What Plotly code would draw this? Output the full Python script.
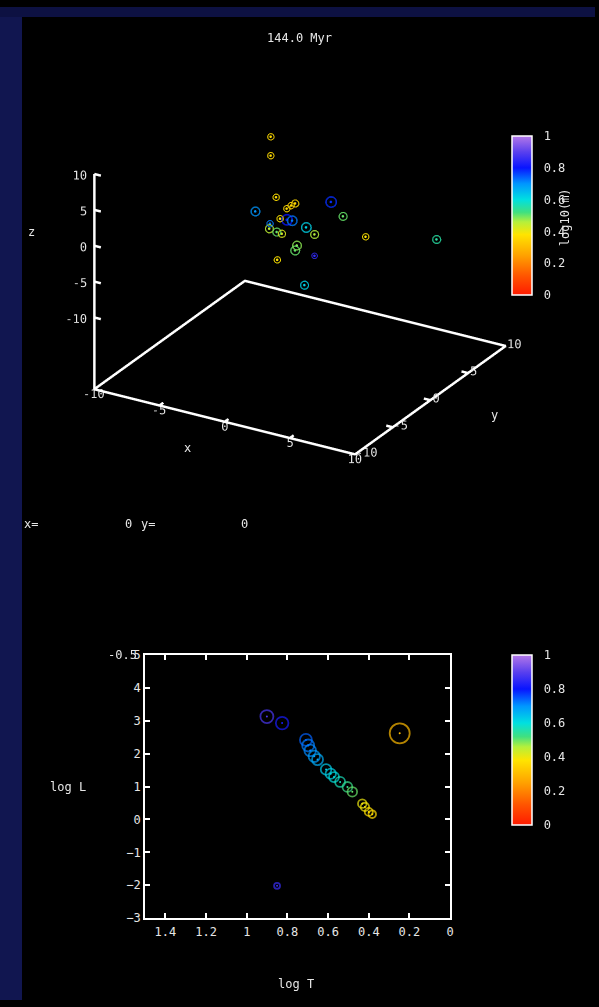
import plotly.graph_objects as go

W, H = 599, 1007

# ---------------- 3D panel data (positions in pc, log10 mass, radius) -------------
star_x = [-4.56, -3.41, -2.42, -0.96, -2.28, 1.21, 2.71, 3.29, 7.00, -1.02, -0.04, 0.46, 1.68,
          -1.21, -1.22, -1.98, -0.25, 0.19, -0.05, -0.02, 2.64, -2.18, 0.46, -2.31, -3.27]
star_y = [4.0, 2.0, 1.0, 1.0, -2.0, 2.0, 1.0, 3.0, 6.0, 0.0, -1.0, 0.0, -1.0,
          -2.0, -1.0, 1.0, 0.0, -1.0, 2.0, -3.0, -4.0, 2.0, -2.0, 0.0, 3.0]
star_z = [7.1, 6.5, 1.9, 1.7, 2.26, 2.14, 1.57, -2.52, -3.48, 0.16, 1.23, -0.24, 0.09,
          0.33, -0.89, -2.99, -3.08, -2.82, -5.94, -2.71, -4.28, -0.33, 4.31, -0.98, -2.98]
star_logm = [0.36, 0.36, 0.37, 0.36, 0.70, 0.78, 0.50, 0.38, 0.55, 0.80, 0.72, 0.62, 0.46,
             0.45, 0.50, 0.42, 0.48, 0.50, 0.85, 0.38, 0.62, 0.36, 0.35, 0.72, 0.38]
star_radius = [4.0, 4.0, 4.0, 4.5, 5.5, 6.5, 5.0, 4.0, 5.0, 6.5, 6.0, 6.0, 5.0,
               5.0, 5.0, 4.5, 5.5, 5.5, 3.5, 4.0, 5.0, 4.0, 4.0, 4.0, 4.0]

# ---------------- HR diagram data -------------
hr_logT = [0.901, 0.826, 0.709, 0.698, 0.688, 0.668, 0.652, 0.610, 0.587, 0.571, 0.541,
           0.505, 0.481, 0.432, 0.419, 0.400, 0.383, 0.248, 0.851]
hr_logL = [3.13, 2.93, 2.42, 2.25, 2.10, 1.92, 1.82, 1.52, 1.39, 1.29, 1.14,
           0.99, 0.84, 0.48, 0.38, 0.23, 0.16, 2.62, -2.02]
hr_logm = [0.88, 0.82, 0.74, 0.72, 0.71, 0.69, 0.67, 0.63, 0.62, 0.60, 0.57,
           0.53, 0.50, 0.40, 0.39, 0.37, 0.36, 0.30, 0.86]
hr_radius = [6.5, 6.3, 6.0, 6.0, 5.8, 5.7, 5.5, 5.3, 5.2, 5.0, 5.0,
             4.9, 4.8, 4.3, 4.2, 4.0, 3.8, 10.0, 3.0]

# ---------------- axes -------------
xyz_range = [-10, 10]
z_base = -20
box_ticks = [-10, -5, 0, 5, 10]
logT_range = [1.5, 0]
logT_ticks = [1.4, 1.2, 1.0, 0.8, 0.6, 0.4, 0.2, 0.0]
logT_ticktext = ["1.4", "1.2", "1", "0.8", "0.6", "0.4", "0.2", "0"]
logL_range = [-3, 5]
logL_ticks = [-3, -2, -1, 0, 1, 2, 3, 4, 5]
cb_ticks = [0, 0.2, 0.4, 0.6, 0.8, 1]
cb_ticktext = ["0", "0.2", "0.4", "0.6", "0.8", "1"]

FONT = "DejaVu Sans Mono"
TXT = "#e6e6e6"
colorscale = [[0.0, "#ff1a00"], [0.12, "#ff5500"], [0.25, "#ffa200"], [0.38, "#ffe400"],
              [0.46, "#b4f03c"], [0.52, "#40e080"], [0.60, "#00e0e0"], [0.70, "#0096ff"],
              [0.80, "#0814ff"], [0.90, "#5a40ee"], [1.0, "#b478e8"]]

# photographed page is slightly reduced and shifted; map intended picture coords to page coords
SX, SY, OY = 0.993, 0.986, 7.0


def px(x):
    return (x / SX) / W


def py(y):
    return 1 - ((y - OY) / SY) / H


def plen(h):
    return (h / SY) / H


fig = go.Figure()

# ---------------- 3D box, ticks and labels -------------
x0, x1 = xyz_range
y0, y1 = xyz_range
zt = xyz_range[1]
bx = [x0, x1, x1, x0, x0, None, x0, x0]
by = [y0, y0, y1, y1, y0, None, y0, y0]
bz = [z_base] * 5 + [None, z_base, zt]
tl = 0.5
for t in box_ticks:
    bx += [None, t, t]; by += [None, y0, y0 + tl]; bz += [None, z_base, z_base]
    bx += [None, x1, x1 - tl]; by += [None, t, t]; bz += [None, z_base, z_base]
    bx += [None, x0, x0 + tl]; by += [None, y0, y0]; bz += [None, t, t]
fig.add_trace(go.Scatter3d(x=bx, y=by, z=bz, mode="lines",
                           line=dict(color="white", width=5), hoverinfo="skip", showlegend=False))

lab = [str(t) for t in box_ticks]
n = len(box_ticks)
fig.add_trace(go.Scatter3d(x=box_ticks, y=[y0] * n, z=[z_base - 0.6] * n, mode="text", text=lab,
                           textposition="middle center",
                           textfont=dict(family=FONT, size=12, color=TXT), showlegend=False))
fig.add_trace(go.Scatter3d(x=[x1 - 0.7] * n, y=box_ticks, z=[z_base] * n, mode="text", text=lab,
                           textposition="middle right",
                           textfont=dict(family=FONT, size=12, color=TXT), showlegend=False))
fig.add_trace(go.Scatter3d(x=[x0 + 0.3] * n, y=[y0] * n, z=box_ticks, mode="text", text=lab,
                           textposition="middle left",
                           textfont=dict(family=FONT, size=12, color=TXT), showlegend=False))

cb_common = dict(x=px(512), xanchor="left", yanchor="top", lenmode="fraction", thickness=20,
                 thicknessmode="pixels", outlinecolor="white", outlinewidth=1.5,
                 ticks="outside", ticklen=9, tickcolor="rgba(0,0,0,0)",
                 tickvals=cb_ticks, ticktext=cb_ticktext,
                 tickfont=dict(family=FONT, size=12, color=TXT), xpad=0, ypad=0,
                 bgcolor="rgba(0,0,0,0)")

# stars in 3D
fig.add_trace(go.Scatter3d(
    x=star_x, y=star_y, z=star_z, mode="markers",
    marker=dict(symbol="circle-open", size=[2 * r for r in star_radius], color=star_logm,
                colorscale=colorscale, cmin=0, cmax=1,
                line=dict(width=2, color=star_logm, colorscale=colorscale, cmin=0, cmax=1),
                showscale=True, colorbar=dict(y=py(136), len=plen(159), **cb_common)),
    hoverinfo="skip", showlegend=False))
fig.add_trace(go.Scatter3d(
    x=star_x, y=star_y, z=star_z, mode="markers",
    marker=dict(symbol="circle", size=1.5, color=star_logm, colorscale=colorscale, cmin=0, cmax=1),
    hoverinfo="skip", showlegend=False))

# ---------------- HR diagram -------------
fig.add_trace(go.Scatter(
    x=hr_logT, y=hr_logL, mode="markers", xaxis="x", yaxis="y",
    marker=dict(symbol="circle-open", size=[2 * r for r in hr_radius], color=hr_logm,
                colorscale=colorscale, cmin=0, cmax=1, line=dict(width=1.8),
                showscale=True, colorbar=dict(y=py(655), len=plen(170), **cb_common)),
    hoverinfo="skip", showlegend=False))
fig.add_trace(go.Scatter(
    x=hr_logT, y=hr_logL, mode="markers", xaxis="x", yaxis="y",
    marker=dict(symbol="circle", size=2, color=hr_logm, colorscale=colorscale, cmin=0, cmax=1),
    hoverinfo="skip", showlegend=False))

k = 1.6
eye = dict(x=0.4597 * k, y=-0.7803 * k, z=0.424 * k)
asp = 1.36

axis_common = dict(showline=True, linecolor="white", linewidth=2, mirror="ticks", ticks="inside",
                   ticklen=5, tickcolor="white", tickwidth=1.5, showgrid=False, zeroline=False,
                   tickfont=dict(family=FONT, size=12, color=TXT))

fig.update_layout(
    width=W, height=H, margin=dict(l=0, r=0, t=0, b=0),
    paper_bgcolor="black", plot_bgcolor="black",
    font=dict(family=FONT, size=12, color=TXT),
    showlegend=False,
    scene=dict(
        domain=dict(x=[22.5 / W, 582.5 / W], y=[1 - 486.4 / H, 1 - 26.4 / H]),
        xaxis=dict(visible=False, range=[-10.2, 10.2]),
        yaxis=dict(visible=False, range=[-10.2, 10.2]),
        zaxis=dict(visible=False, range=[-21, 11]),
        aspectmode="manual", aspectratio=dict(x=1 * asp, y=0.98 * asp, z=0.821 * asp),
        camera=dict(eye=eye, up=dict(x=0, y=0, z=1), center=dict(x=0, y=0, z=0),
                    projection=dict(type="orthographic")),
        bgcolor="rgba(0,0,0,0)",
    ),
    xaxis=dict(domain=[px(145), px(450)], range=logT_range, tickvals=logT_ticks,
               ticktext=logT_ticktext, ticklabelstandoff=2, **axis_common),
    yaxis=dict(domain=[py(918), py(655)], range=logL_range, tickvals=logL_ticks, **axis_common),
    shapes=[
        dict(type="rect", xref="paper", yref="paper", x0=0, x1=px(22), y0=0, y1=1,
             fillcolor="#111650", line=dict(width=0), layer="below"),
        dict(type="rect", xref="paper", yref="paper", x0=0, x1=1, y0=py(17), y1=1,
             fillcolor="#0d1142", line=dict(width=0), layer="below"),
    ],
)

ann = [
    ("144.0 Myr", 299, 38, "center", 0),
    ("z", 31, 232, "center", 0),
    ("x", 187, 448, "center", 0),
    ("y", 494, 415, "center", 0),
    ("x=", 31, 524, "center", 0),
    ("0", 128, 524, "center", 0),
    ("y=", 148, 524, "center", 0),
    ("0", 244, 524, "center", 0),
    ("log L", 68, 787, "center", 0),
    ("log T", 296, 984, "center", 0),
    ("log10(m)", 565, 217, "center", -90),
]
for text, x, y, al, ang in ann:
    fig.add_annotation(text=text, x=px(x), y=py(y), xref="paper", yref="paper",
                       showarrow=False, xanchor=al, yanchor="middle", textangle=ang,
                       font=dict(family=FONT, size=12, color=TXT))
fig.add_annotation(text="-0.5", x=px(139), y=py(655), xref="paper", yref="paper",
                   showarrow=False, xanchor="right", yanchor="middle",
                   font=dict(family=FONT, size=12, color=TXT))

post = """
document.documentElement.style.margin='0';
document.documentElement.style.padding='0';
document.documentElement.style.overflow='hidden';
document.documentElement.style.background='black';
document.body.style.margin='0';
document.body.style.padding='0';
document.body.style.overflow='hidden';
document.body.style.background='black';
var gd = document.getElementsByClassName('plotly-graph-div')[0];
gd.style.position='fixed'; gd.style.left='0px'; gd.style.top='0px';
"""
fig.write_html("out.html", post_script=post, config={"displayModeBar": False})
